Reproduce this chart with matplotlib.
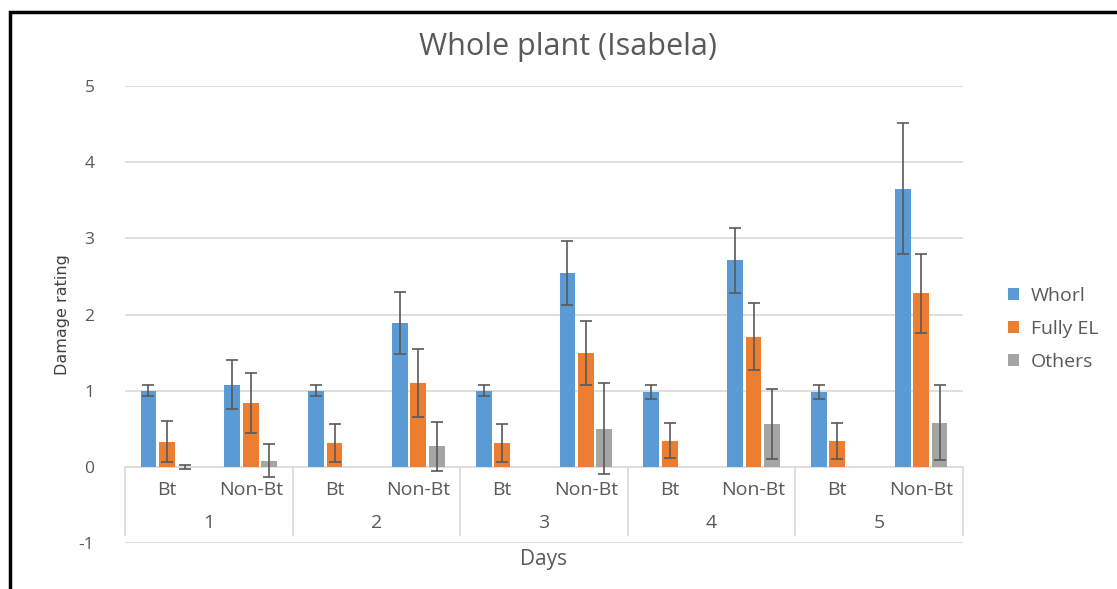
import matplotlib
matplotlib.use("Agg")
import matplotlib.pyplot as plt
import numpy as np
from matplotlib.patches import Rectangle, Patch

days = ["1", "2", "3", "4", "5"]
varieties = ["Bt", "Non-Bt"]
series = ["Whorl", "Fully EL", "Others"]

whorl = [1.00, 1.08, 1.00, 1.89, 1.00, 2.54, 0.98, 2.71, 0.98, 3.65]
whorl_err = [0.07, 0.32, 0.07, 0.41, 0.07, 0.42, 0.09, 0.43, 0.09, 0.86]
fully_el = [0.33, 0.84, 0.31, 1.10, 0.31, 1.50, 0.34, 1.71, 0.34, 2.28]
fully_el_err = [0.27, 0.39, 0.25, 0.45, 0.25, 0.42, 0.23, 0.44, 0.24, 0.52]
others = [0.00, 0.08, np.nan, 0.27, np.nan, 0.50, np.nan, 0.56, np.nan, 0.58]
others_err = [0.03, 0.22, np.nan, 0.32, np.nan, 0.60, np.nan, 0.46, np.nan, 0.49]

colors = ["#5B9BD5", "#ED7D31", "#A5A5A5"]
text_col = "#595959"
grid_col = "#D9D9D9"

plt.rcParams['font.family'] = ['Open Sans', 'DejaVu Sans']
plt.rcParams['axes.unicode_minus'] = False

fig = plt.figure(figsize=(11.17, 5.89), dpi=100)
ax = fig.add_axes([125/1117, 1-543/589, (963-125)/1117, (543-86)/589])

n = len(days) * len(varieties)
x = np.arange(n)
offs = [-0.22, 0.0, 0.22]
w = 0.19
vals = [whorl, fully_el, others]
errs = [whorl_err, fully_el_err, others_err]
for k in range(3):
    v = np.array(vals[k], dtype=float)
    e = np.array(errs[k], dtype=float)
    ax.bar(x + offs[k], np.nan_to_num(v), width=w, color=colors[k], zorder=3)
    ax.errorbar(x + offs[k], v, yerr=e, fmt='none', ecolor='#595959',
                elinewidth=1.2, capsize=4, capthick=1.2, zorder=4)

ax.set_xlim(-0.5, n - 0.5)
ax.set_ylim(-1, 5)
ax.set_yticks(range(-1, 6))
ax.tick_params(axis='y', length=0, labelsize=12.5, labelcolor=text_col, pad=22)
ax.set_xticks([])
for s in ax.spines.values():
    s.set_visible(False)
for yv in range(-1, 6):
    if yv != 0:
        ax.axhline(yv, color=grid_col, lw=1.2, zorder=1)
ax.axhline(0, color=grid_col, lw=1.2, zorder=2)

# multi-level category axis
for i in range(n):
    ax.text(x[i], -0.30, varieties[i % 2], ha='center', va='center',
            fontsize=14, color=text_col)
for d in range(len(days)):
    ax.text(2 * d + 0.5, -0.74, days[d], ha='center', va='center',
            fontsize=14, color=text_col)
for b in range(len(days) + 1):
    ax.plot([2 * b - 0.5, 2 * b - 0.5], [0, -0.89], color=grid_col, lw=1.2,
            zorder=2, clip_on=False)

fig.text(544/1117, 1-559/589, "Days", ha='center', va='center',
         fontsize=15, color=text_col)
fig.text(62/1117, 1-315/589, "Damage rating", rotation=90, ha='center',
         va='center', fontsize=11.5, color='#404040',
         family=['Liberation Sans Narrow', 'DejaVu Sans'])
fig.text(568/1117, 1-47/589, "Whole plant (Isabela)", ha='center', va='center',
         fontsize=22, color=text_col)

handles = [Patch(facecolor=c) for c in colors]
fig.legend(handles, series, loc='center left',
           bbox_to_anchor=(990/1117, 1-329/589), bbox_transform=fig.transFigure,
           frameon=False, fontsize=14, handlelength=0.6, handleheight=0.6,
           labelspacing=0.78, handletextpad=0.6, labelcolor=text_col)

fig.add_artist(Rectangle((10/1117, -0.1), 1.2, 1 - 12/589 + 0.1,
                         transform=fig.transFigure, fill=False, lw=2.5,
                         edgecolor='black'))

fig.savefig("out.png", dpi=100)
